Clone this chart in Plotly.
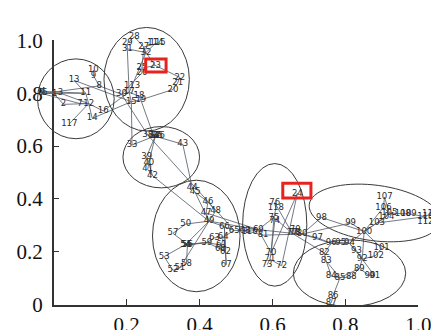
import math
import plotly.graph_objects as go

# ---------------- data ----------------
node_ids = list(range(1, 119))
node_x = [0.003, 0.027, 0.019, -0.029, -0.024, -0.035, 0.072, 0.125, 0.109, 0.109,
          0.088, 0.096, 0.056, 0.106, 0.213, 0.136, 0.207, 0.234, 0.239, 0.327,
          0.340, 0.346, 0.279, 0.668, 0.242, 0.242, 0.247, 0.221, 0.202, 0.186,
          0.202, 0.253, 0.215, 0.274, 0.285, 0.290, 0.279, 0.258, 0.255, 0.261,
          0.258, 0.271, 0.354, 0.380, 0.388, 0.423, 0.418, 0.444, 0.426, 0.362,
          0.346, 0.327, 0.303, 0.362, 0.364, 0.367, 0.327, 0.364, 0.420, 0.457,
          0.460, 0.471, 0.441, 0.465, 0.495, 0.468, 0.473, 0.524, 0.561, 0.596,
          0.593, 0.625, 0.585, 0.606, 0.604, 0.606, 0.654, 0.662, 0.662, 0.681,
          0.574, 0.742, 0.747, 0.761, 0.785, 0.766, 0.761, 0.816, 0.838, 0.867,
          0.880, 0.846, 0.830, 0.811, 0.787, 0.761, 0.723, 0.734, 0.814, 0.851,
          0.899, 0.883, 0.886, 0.912, 0.920, 0.904, 0.907, 0.957, 0.973, 1.019,
          1.032, 1.019, 0.215, 0.279, 0.285, 0.537, 0.043, 0.609]
node_y = [0.796, 0.758, 0.800, 0.807, 0.800, 0.800, 0.761, 0.828, 0.867, 0.888,
          0.800, 0.761, 0.849, 0.705, 0.768, 0.733, 0.804, 0.789, 0.775, 0.814,
          0.839, 0.860, 0.905, 0.421, 0.895, 0.877, 0.975, 1.014, 0.989, 0.796,
          0.968, 0.954, 0.604, 0.639, 0.639, 0.639, 0.639, 0.642, 0.561, 0.537,
          0.512, 0.488, 0.607, 0.442, 0.425, 0.389, 0.347, 0.354, 0.316, 0.305,
          0.140, 0.130, 0.182, 0.228, 0.225, 0.228, 0.270, 0.154, 0.235, 0.211,
          0.225, 0.200, 0.253, 0.256, 0.281, 0.295, 0.151, 0.281, 0.284, 0.196,
          0.172, 0.147, 0.151, 0.316, 0.330, 0.386, 0.270, 0.270, 0.284, 0.267,
          0.263, 0.196, 0.165, 0.109, 0.102, 0.035, 0.007, 0.105, 0.137, 0.109,
          0.109, 0.172, 0.204, 0.232, 0.235, 0.232, 0.253, 0.330, 0.309, 0.277,
          0.214, 0.186, 0.309, 0.333, 0.347, 0.368, 0.407, 0.344, 0.344, 0.333,
          0.344, 0.312, 0.828, 0.989, 0.989, 0.277, 0.684, 0.365]

edge_from = [1, 1, 4, 3, 5, 6, 8, 8, 9, 4, 5, 11, 2, 3, 7, 11, 12, 13, 14, 12,
             15, 16, 17, 18, 19, 15, 20, 21, 22, 23, 26, 25, 27, 28, 30, 8, 26, 17, 29, 23,
             31, 27, 15, 19, 35, 35, 33, 34, 34, 38, 37, 37, 30, 39, 40, 40, 41, 43, 34, 44,
             45, 46, 46, 47, 42, 45, 48, 49, 49, 51, 52, 53, 49, 54, 54, 55, 56, 50, 56, 51,
             54, 56, 55, 59, 59, 60, 60, 61, 63, 63, 64, 38, 64, 49, 62, 62, 65, 66, 65, 47,
             49, 68, 69, 24, 70, 24, 71, 71, 70, 70, 69, 74, 76, 69, 75, 77, 78, 77, 79, 68,
             81, 77, 82, 83, 83, 84, 85, 86, 85, 85, 88, 89, 90, 89, 91, 92, 92, 93, 94, 80,
             82, 94, 80, 80, 80, 92, 94, 95, 96, 98, 99, 100, 92, 101, 100, 100, 103, 103, 100, 104,
             105, 105, 105, 106, 108, 103, 109, 110, 110, 17, 32, 32, 27, 114, 68, 12, 75, 76]
edge_to = [2, 3, 5, 5, 6, 7, 9, 5, 10, 11, 11, 12, 12, 12, 12, 13, 14, 15, 15, 16,
           17, 17, 18, 19, 20, 19, 21, 22, 23, 25, 25, 27, 28, 29, 17, 30, 30, 31, 31, 32,
           32, 32, 33, 34, 36, 37, 37, 36, 37, 37, 39, 40, 38, 40, 41, 42, 42, 44, 43, 45,
           46, 47, 48, 49, 49, 49, 49, 50, 51, 52, 53, 54, 54, 55, 56, 56, 57, 57, 58, 58,
           59, 59, 59, 60, 61, 61, 62, 62, 59, 64, 61, 65, 65, 66, 66, 67, 66, 67, 68, 69,
           69, 69, 70, 70, 71, 72, 72, 73, 74, 75, 75, 75, 77, 77, 77, 78, 79, 80, 80, 81,
           80, 82, 83, 84, 85, 85, 86, 87, 88, 89, 89, 90, 91, 92, 92, 93, 94, 94, 95, 96,
           96, 96, 97, 98, 99, 100, 100, 96, 97, 100, 100, 101, 102, 102, 103, 104, 104, 105, 106, 105,
           106, 107, 108, 107, 109, 110, 110, 111, 112, 113, 113, 114, 115, 115, 116, 117, 118, 118]

# cluster ellipses: centre x, centre y, half-width, half-height, tilt (deg)
cluster_cx = [0.061, 0.255, 0.295, 0.391, 0.606, 0.880, 0.811]
cluster_cy = [0.779, 0.853, 0.558, 0.260, 0.302, 0.347, 0.119]
cluster_rx = [0.105, 0.117, 0.105, 0.120, 0.088, 0.181, 0.154]
cluster_ry = [0.151, 0.196, 0.116, 0.211, 0.232, 0.105, 0.126]
cluster_tilt = [0, 0, 0, 0, 0, -8, 0]

highlight_nodes = [23, 24]

x_ticks = [0.2, 0.4, 0.6, 0.8, 1.0]
x_tick_text = ["0.2", "0.4", "0.6", "0.8", "1.0"]
y_ticks = [0, 0.2, 0.4, 0.6, 0.8, 1.0]
y_tick_text = ["0", "0.2", "0.4", "0.6", "0.8", "1.0"]

# ---------------- layout geometry (pixels) ----------------
W, H = 439, 330
PX0, PX1 = 47, 423      # x = 0 .. 1
PY0, PY1 = 307, 22      # y = 0 .. 1
sx = (PX1 - PX0)
sy = (PY0 - PY1)

pos = {n: (x, y) for n, x, y in zip(node_ids, node_x, node_y)}

ex, ey = [], []
for a, b in zip(edge_from, edge_to):
    ex += [pos[a][0], pos[b][0], None]
    ey += [pos[a][1], pos[b][1], None]

fig = go.Figure()
fig.add_trace(go.Scatter(x=[None], y=[None], xaxis="x", yaxis="y",
                         showlegend=False, hoverinfo="skip"))
fig.add_trace(go.Scatter(x=ex, y=ey, mode="lines", xaxis="x2", yaxis="y2",
                         line=dict(color="rgba(90,96,108,0.85)", width=1),
                         hoverinfo="skip", showlegend=False))
fig.add_trace(go.Scatter(x=node_x, y=node_y, mode="text", xaxis="x2", yaxis="y2",
                         text=[str(n) for n in node_ids],
                         textfont=dict(family="DejaVu Sans", size=8.5, color="#2a2a2a"),
                         cliponaxis=False, hoverinfo="skip", showlegend=False))

shapes = []
for cx, cy, rx, ry, t in zip(cluster_cx, cluster_cy, cluster_rx, cluster_ry, cluster_tilt):
    if t == 0:
        shapes.append(dict(type="circle", xref="x2", yref="y2",
                           x0=cx - rx, x1=cx + rx, y0=cy - ry, y1=cy + ry,
                           line=dict(color="#3a3a3a", width=1)))
    else:
        a, b = rx * sx, ry * sy
        th = math.radians(t)
        pts = []
        for k in range(73):
            p = 2 * math.pi * k / 72
            u, v = a * math.cos(p), b * math.sin(p)
            du = u * math.cos(th) - v * math.sin(th)
            dv = u * math.sin(th) + v * math.cos(th)
            pts.append((cx + du / sx, cy + dv / sy))
        path = "M " + " L ".join(f"{px:.5f},{py:.5f}" for px, py in pts) + " Z"
        shapes.append(dict(type="path", xref="x2", yref="y2", path=path,
                           line=dict(color="#3a3a3a", width=1)))

box_pad = {23: (-10, 11, -7, 7), 24: (-15, 14, -11, 5)}  # pixel paddings l, r, top, bottom
for n in highlight_nodes:
    l, r, tp, bt = box_pad[n]
    x, y = pos[n]
    shapes.append(dict(type="rect", xref="x2", yref="y2",
                       x0=x + l / sx, x1=x + r / sx, y0=y - bt / sy, y1=y - tp / sy,
                       line=dict(color="#e8231f", width=3)))

tickfont = dict(family="'Liberation Serif', 'Times New Roman', Times, serif", size=21, color="#111")
fig.update_layout(
    width=W, height=H, autosize=False,
    margin=dict(l=0, r=0, t=0, b=0),
    paper_bgcolor="white", plot_bgcolor="rgba(0,0,0,0)",
    hovermode=False, showlegend=False,
    shapes=shapes,
    xaxis=dict(domain=[PX0 / W, PX1 / W], range=[0, 1], showgrid=False, zeroline=False,
               showline=True, linecolor="#333", linewidth=1.5,
               ticks="inside", ticklen=6, tickwidth=1.3, tickcolor="#333",
               tickvals=x_ticks, ticktext=x_tick_text, tickfont=tickfont,
               ticklabelstandoff=0, anchor="y", fixedrange=True),
    yaxis=dict(domain=[(H - PY0) / H, (H - PY1) / H], range=[0, 1], showgrid=False,
               zeroline=False, showline=True, linecolor="#333", linewidth=1.5,
               ticks="inside", ticklen=6, tickwidth=1.3, tickcolor="#333",
               tickvals=y_ticks, ticktext=y_tick_text, tickfont=tickfont,
               ticklabelstandoff=5, anchor="x", fixedrange=True),
    xaxis2=dict(domain=[0, 1], range=[-PX0 / sx, (W - PX0) / sx], visible=False,
                anchor="y2", fixedrange=True),
    yaxis2=dict(domain=[0, 1], range=[-(H - PY0) / sy, PY0 / sy], visible=False,
                anchor="x2", fixedrange=True),
)

fig.write_html("out.html")
